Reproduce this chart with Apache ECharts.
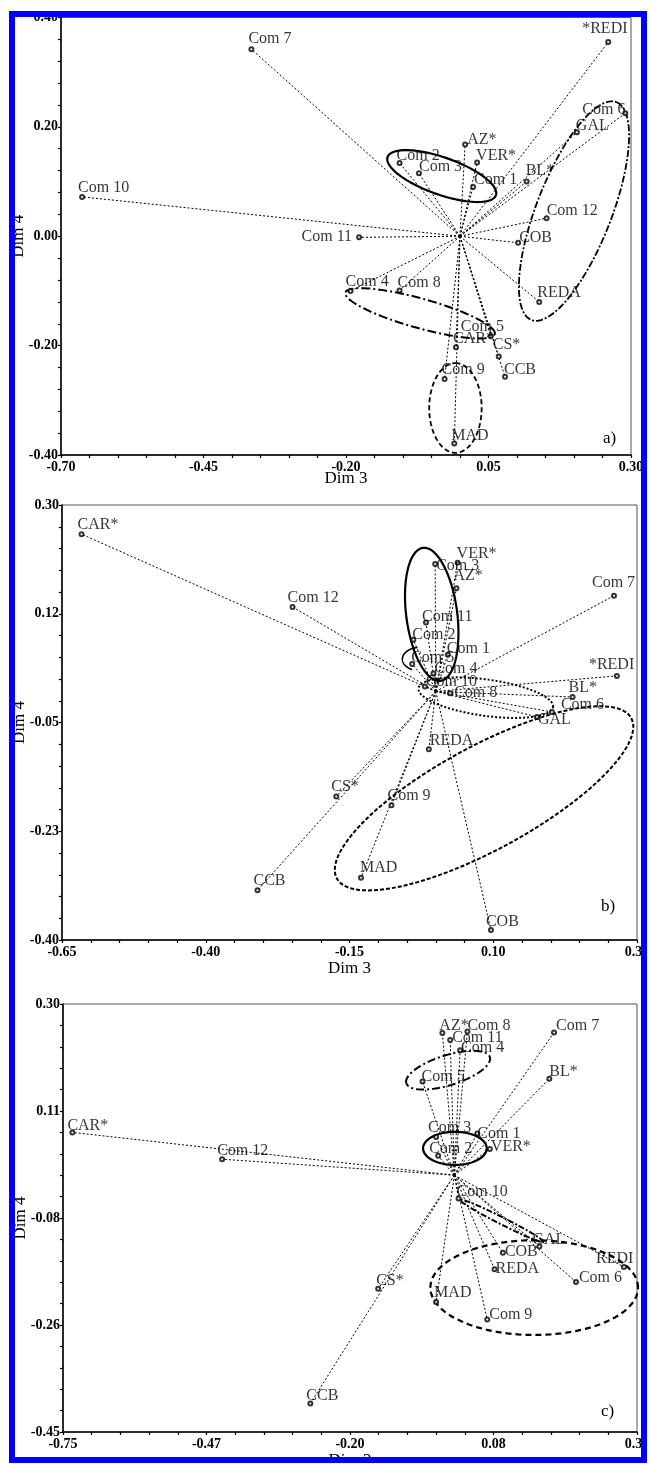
<!DOCTYPE html>
<html>
<head>
<meta charset="utf-8">
<script src="https://cdn.jsdelivr.net/npm/echarts@6/dist/echarts.min.js"></script>
<style>
  html, body { margin: 0; padding: 0; background: #fff; }
  #chart { width: 647px; height: 1463px; }
</style>
</head>
<body>
<div id="chart"></div>
<script>
// ---- panel a) ----
const namesA = ['Com 7','*REDI','Com 6','GAL','AZ*','VER*','Com 2','Com 3','Com 1','BL*','Com 12','COB','REDA','Com 11','Com 10','Com 4','Com 8','Com 5','CAR*','CS*','CCB','Com 9','MAD'];
const dim3A = [-0.366, 0.260, 0.290, 0.205, 0.009, 0.030, -0.106, -0.072, 0.023, 0.117, 0.152, 0.102, 0.139, -0.177, -0.663, -0.192, -0.106, 0.054, -0.007, 0.068, 0.079, -0.027, -0.010];
const dim4A = [0.342, 0.355, 0.225, 0.190, 0.168, 0.135, 0.134, 0.115, 0.090, 0.100, 0.033, -0.012, -0.120, -0.002, 0.072, -0.100, -0.099, -0.183, -0.203, -0.220, -0.257, -0.261, -0.379];
const xTicksA = [-0.70, -0.45, -0.20, 0.05, 0.30];
const xLabelsA = ['-0.70', '-0.45', '-0.20', '0.05', '0.30'];
const yTicksA = [-0.40, -0.20, 0.00, 0.20, 0.40];
const yLabelsA = ['-0.40', '-0.20', '0.00', '0.20', '0.40'];
// ellipses: [centre, end of one axis, end of the other axis] in Dim 3 / Dim 4 units
const ellipsesA = [
  [[-0.032, 0.110], [0.063, 0.075], [-0.021, 0.142]],
  [[0.200, 0.046], [0.275, 0.245], [0.261, 0.020]],
  [[-0.070, -0.141], [0.061, -0.179], [-0.063, -0.115]],
  [[-0.008, -0.314], [-0.008, -0.232], [0.038, -0.314]]
];

// ---- panel b) ----
const namesB = ['CAR*','Com 12','Com 7','VER*','Com 3','AZ*','Com 11','Com 2','Com 1','Com 5','Com 4','Com 10','Com 8','*REDI','BL*','Com 6','GAL','REDA','CS*','Com 9','MAD','CCB','COB'];
const dim3B = [-0.616, -0.249, 0.310, 0.038, -0.001, 0.036, -0.017, -0.039, 0.021, -0.041, -0.004, -0.019, 0.025, 0.315, 0.238, 0.202, 0.176, -0.012, -0.173, -0.077, -0.130, -0.310, 0.096];
const dim4B = [0.253, 0.136, 0.154, 0.207, 0.205, 0.166, 0.111, 0.083, 0.059, 0.044, 0.029, 0.008, -0.003, 0.025, -0.009, -0.033, -0.041, -0.093, -0.169, -0.183, -0.300, -0.320, -0.384];
const xTicksB = [-0.65, -0.40, -0.15, 0.10, 0.35];
const xLabelsB = ['-0.65', '-0.40', '-0.15', '0.10', '0.35'];
const yTicksB = [-0.40, -0.225, -0.05, 0.125, 0.30];
const yLabelsB = ['-0.40', '-0.23', '-0.05', '0.12', '0.30'];
const ellipsesB = [
  [[-0.007, 0.124], [-0.022, 0.231], [0.037, 0.129]],
  [[-0.027, 0.052], [0.004, 0.052], [-0.027, 0.071]],
  [[0.087, -0.010], [0.204, -0.025], [0.091, 0.019]],
  [[0.084, -0.172], [0.340, -0.043], [0.127, -0.245]]
];

// ---- panel c) ----
const namesC = ['CAR*','Com 12','AZ*','Com 8','Com 11','Com 4','Com 5','Com 7','BL*','Com 3','Com 1','Com 2','VER*','Com 10','GAL','COB','REDA','REDI','Com 6','MAD','Com 9','CS*','CCB'];
const dim3C = [-0.732, -0.445, -0.023, 0.025, -0.008, 0.011, -0.061, 0.191, 0.182, -0.035, 0.044, -0.031, 0.068, 0.008, 0.163, 0.093, 0.077, 0.325, 0.233, -0.035, 0.063, -0.146, -0.276];
const dim4C = [0.075, 0.028, 0.249, 0.252, 0.237, 0.219, 0.164, 0.250, 0.169, 0.067, 0.073, 0.034, 0.046, -0.041, -0.125, -0.136, -0.165, -0.161, -0.187, -0.222, -0.253, -0.199, -0.400];
const xTicksC = [-0.75, -0.475, -0.20, 0.075, 0.35];
const xLabelsC = ['-0.75', '-0.47', '-0.20', '0.08', '0.35'];
const yTicksC = [-0.45, -0.2625, -0.075, 0.1125, 0.30];
const yLabelsC = ['-0.45', '-0.26', '-0.08', '0.11', '0.30'];
const ellipsesC = [
  [[-0.012, 0.184], [-0.092, 0.161], [-0.021, 0.209]],
  [[0.001, 0.047], [0.062, 0.047], [0.001, 0.076]],
  [[0.091, -0.080], [0.171, -0.117], [0.095, -0.075]],
  [[0.153, -0.197], [0.352, -0.197], [0.153, -0.114]]
];

// label placement (px from the circle to the left-middle of the text)
const placeA = [[-2,-9],[-25,-12],[-42,-2],[0,-6],[3,-4],[0,-6],[-2,-6],[1,-6],[2,-6],[0,-10],[1,-6],[2,-4],[-1,-8],[-6,0,'right'],[-3,-8],[-4,-8],[-1,-7],[-29,-9],[-2,-7],[-5,-11],[0,-6],[-2,-8],[-2,-7]];
const placeB = [[-3,-8],[-4,-8],[-21,-12],[0,-8],[2,3],[-2,-11],[-3,-5],[0,-4],[0,-5],[0,-5],[2,-4],[2,-4],[5,1],[-27,-10],[-3,-8],[10,-6],[2,4],[2,-7],[-4,-9],[-3,-8],[0,-9],[-3,-8],[-4,-7]];
const placeC = [[-4,-6],[-4,-7],[-2,-6],[1,-5],[3,-1],[2,-1],[0,-4],[3,-6],[1,-6],[-7,-8],[1,1],[-8,-6],[2,-1],[-1,-6],[-6,-6],[3,0],[2,0],[-27,-7],[4,-3],[-1,-8],[3,-4],[-1,-7],[-3,-7]];

const styleA = [{w: 2.2, dash: null}, {w: 1.8, dash: [7,2,2,2]}, {w: 2, dash: [9,3,2,3]}, {w: 1.8, dash: [5,3]}];
const styleB = [{w: 2.2, dash: null}, {w: 1.6, dash: null, arc: [0.55 * Math.PI, 1.35 * Math.PI]}, {w: 2, dash: [2,2]}, {w: 2, dash: [4,2]}];
const styleC = [{w: 2, dash: [8,3,2,3]}, {w: 2.2, dash: null}, {w: 2, dash: [6,2,2,2]}, {w: 2.2, dash: [6,4]}];

const FONT = 'Liberation Serif';

function minorValues(majors) {
  const out = [];
  for (let i = 0; i < majors.length - 1; i++) {
    for (let k = 0; k < 5; k++) out.push(majors[i] + (majors[i + 1] - majors[i]) * k / 5);
  }
  out.push(majors[majors.length - 1]);
  return out;
}

function axis(gi, majors, labels, name, gap, isY) {
  return {
    type: 'value', gridIndex: gi,
    min: majors[0], max: majors[majors.length - 1],
    name: name, nameLocation: 'middle', nameGap: gap, nameMoveOverlap: false,
    nameTextStyle: { fontFamily: FONT, fontSize: 17, color: '#000' },
    splitLine: { show: false },
    axisLine: { show: true, onZero: false, lineStyle: { color: '#000', width: 1.5 } },
    axisTick: { show: true, length: 3, customValues: minorValues(majors), lineStyle: { color: '#000', width: 1.2 } },
    axisLabel: {
      customValues: majors, margin: isY ? 3 : 5,
      fontFamily: FONT, fontSize: 14, fontWeight: 'bold', color: '#000',
      formatter: v => {
        const i = majors.findIndex(m => Math.abs(m - v) < 1e-6);
        return i >= 0 ? labels[i] : '';
      }
    }
  };
}

function panelSeries(gi, names, xs, ys, place, ellipses, styles) {
  const rays = {
    type: 'lines', coordinateSystem: 'cartesian2d', xAxisIndex: gi, yAxisIndex: gi,
    silent: true, z: 2,
    lineStyle: { color: '#000', width: 1, type: [2, 2], opacity: 1 },
    data: names.map((n, i) => ({ coords: [[0, 0], [xs[i], ys[i]]] }))
  };
  const pts = {
    type: 'scatter', xAxisIndex: gi, yAxisIndex: gi, silent: true, z: 4,
    symbol: 'emptyCircle', symbolSize: 4,
    itemStyle: { color: '#000', borderColor: '#000', borderWidth: 1 },
    data: names.map((n, i) => ({
      name: n, value: [xs[i], ys[i]],
      label: {
        show: true, formatter: '{b}',
        position: [place[i][0] + 2, place[i][1] + 2],
        align: place[i][2] || 'left', verticalAlign: 'middle',
        fontFamily: FONT, fontSize: 16, color: '#000'
      }
    }))
  };
  const ell = {
    type: 'custom', xAxisIndex: gi, yAxisIndex: gi, silent: true, z: 3, clip: false,
    data: ellipses.map(e => [e[0][0], e[0][1], e[1][0], e[1][1], e[2][0], e[2][1]]),
    renderItem: (params, api) => {
      const st = styles[params.dataIndex];
      const c = api.coord([api.value(0), api.value(1)]);
      const m = api.coord([api.value(2), api.value(3)]);
      const n = api.coord([api.value(4), api.value(5)]);
      const t0 = st.arc ? st.arc[0] : 0;
      const t1 = st.arc ? st.arc[1] : 2 * Math.PI;
      const points = [];
      for (let k = 0; k <= 120; k++) {
        const t = t0 + (t1 - t0) * k / 120;
        points.push([
          c[0] + (m[0] - c[0]) * Math.cos(t) + (n[0] - c[0]) * Math.sin(t),
          c[1] + (m[1] - c[1]) * Math.cos(t) + (n[1] - c[1]) * Math.sin(t)
        ]);
      }
      return {
        type: 'polyline', shape: { points: points },
        style: { stroke: '#000', fill: 'none', lineWidth: st.w, lineDash: st.dash }
      };
    }
  };
  return [rays, ell, pts];
}

const grid = (left, top, width, height) => ({
  left: left, top: top, width: width, height: height,
  show: true, borderColor: '#555', borderWidth: 1, backgroundColor: 'transparent',
  containLabel: false, outerBoundsMode: 'none'
});

const letter = (t, left, top) => ({
  text: t, left: left, top: top, padding: 0,
  textStyle: { fontFamily: FONT, fontSize: 17, fontWeight: 'normal', color: '#000' }
});

const myChart = echarts.init(document.getElementById('chart'));
const option = {
  animation: false,
  backgroundColor: '#fff',
  title: [letter('a)', 603, 430), letter('b)', 601, 898), letter('c)', 601, 1403)],
  grid: [grid(61, 17.5, 570, 437.5), grid(62, 505, 575, 435), grid(63, 1004, 574, 428)],
  xAxis: [
    axis(0, xTicksA, xLabelsA, 'Dim 3', 15, false),
    axis(1, xTicksB, xLabelsB, 'Dim 3', 20, false),
    axis(2, xTicksC, xLabelsC, 'Dim 3', 20, false)
  ],
  yAxis: [
    axis(0, yTicksA, yLabelsA, 'Dim 4', 34, true),
    axis(1, yTicksB, yLabelsB, 'Dim 4', 34, true),
    axis(2, yTicksC, yLabelsC, 'Dim 4', 34, true)
  ],
  series: [].concat(
    panelSeries(0, namesA, dim3A, dim4A, placeA, ellipsesA, styleA),
    panelSeries(1, namesB, dim3B, dim4B, placeB, ellipsesB, styleB),
    panelSeries(2, namesC, dim3C, dim4C, placeC, ellipsesC, styleC)
  ),
  graphic: [{
    type: 'rect', z: 100, silent: true,
    shape: { x: 12, y: 14, width: 632, height: 1446 },
    style: { fill: 'none', stroke: '#0000ff', lineWidth: 6 }
  }]
};
myChart.setOption(option);
window.addEventListener('resize', () => myChart.resize());
</script>
</body>
</html>
